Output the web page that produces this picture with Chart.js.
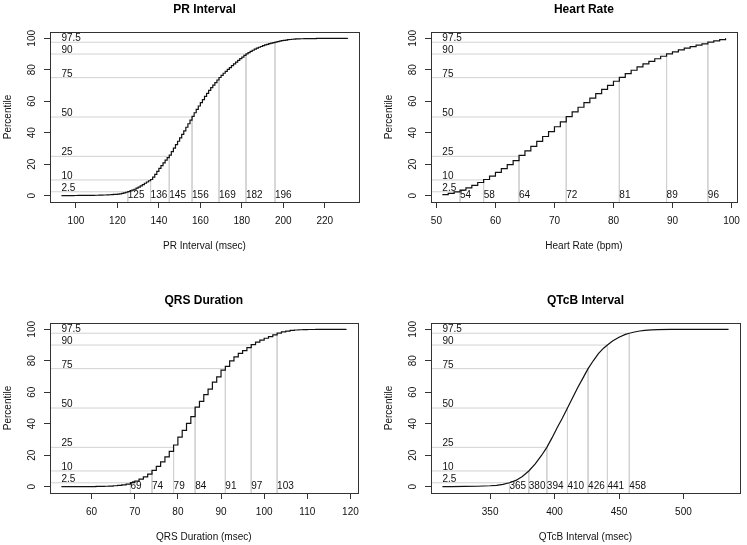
<!DOCTYPE html>
<html lang="en">
<head>
  <meta charset="UTF-8" />
  <title>ECG Interval Percentiles</title>
  <script src="https://cdn.jsdelivr.net/npm/chart.js"></script>
  <style>
    html, body {
      margin: 0;
      padding: 0;
      background: #fff;
      overflow: hidden;
    }
    body {
      position: relative;
      width: 747px;
      height: 545px;
    }
    canvas {
      position: absolute;
    }
  </style>
</head>
<body>
  <canvas id="prChart" width="366" height="252" style="left:0;top:0"></canvas>
  <canvas id="hrChart" width="366" height="252" style="left:381px;top:0"></canvas>
  <canvas id="qrsChart" width="366" height="252" style="left:0;top:291px"></canvas>
  <canvas id="qtcChart" width="366" height="252" style="left:381px;top:291px"></canvas>

  <script>
    // percentile reference levels shared by all four panels
    const pctLevels = [2.5, 10, 25, 50, 75, 90, 97.5];
    const pctText = ['2.5', '10', '25', '50', '75', '90', '97.5'];
    const yTicks = [0, 20, 40, 60, 80, 100];

    // PR interval (msec) - cumulative percent
    const prX = [93, 95, 97, 99, 101, 103, 105, 107, 109, 111, 113, 115, 116, 117, 118, 119,
      120, 121, 122, 123, 124, 125, 126, 127, 128, 129, 130, 131, 132, 133, 134, 135,
      136, 137, 138, 139, 140, 141, 142, 143, 144, 145, 146, 147, 148, 149, 150, 151,
      152, 153, 154, 155, 156, 157, 158, 159, 160, 161, 162, 163, 164, 165, 166, 167,
      168, 169, 170, 171, 172, 173, 174, 175, 176, 177, 178, 179, 180, 181, 182, 183,
      184, 185, 186, 187, 188, 189, 190, 191, 192, 193, 194, 195, 196, 197, 198, 199,
      200, 201, 202, 203, 204, 205, 206, 208, 210, 213, 216, 220, 225, 231];
    const prPct = [0.05, 0.08, 0.1, 0.12, 0.15, 0.18, 0.2, 0.25, 0.3, 0.35, 0.45, 0.55, 0.6, 0.7, 0.8, 0.9,
      1.0, 1.2, 1.5, 1.8, 2.2, 2.6, 3.0, 3.5, 4.1, 4.8, 5.5, 6.3, 7.1, 7.9, 8.7, 9.5,
      10.3, 11.8, 13.6, 15.5, 17.3, 19.1, 20.9, 22.6, 24.2, 25.8, 28.0, 30.2, 32.4, 34.6, 36.8, 39.0,
      41.2, 43.5, 45.7, 48.0, 50.4, 52.7, 54.9, 57.0, 59.1, 61.1, 63.1, 65.0, 66.9, 68.6, 70.3, 71.9,
      73.5, 75.1, 76.5, 77.8, 79.0, 80.2, 81.4, 82.6, 83.8, 84.9, 86.0, 87.1, 88.1, 89.1, 90.1, 90.9,
      91.7, 92.4, 93.1, 93.7, 94.3, 94.8, 95.3, 95.8, 96.2, 96.6, 96.9, 97.2, 97.6, 97.9, 98.2, 98.5,
      98.7, 98.9, 99.1, 99.25, 99.4, 99.5, 99.6, 99.7, 99.8, 99.85, 99.9, 99.95, 99.97, 100];
    const prQuant = [125, 136, 145, 156, 169, 182, 196];
    const prTicks = [100, 120, 140, 160, 180, 200, 220];

    // Heart rate (bpm)
    const hrX = [51, 52, 53, 54, 55, 56, 57, 58, 59, 60, 61, 62, 63, 64, 65, 66, 67, 68, 69, 70,
      71, 72, 73, 74, 75, 76, 77, 78, 79, 80, 81, 82, 83, 84, 85, 86, 87, 88, 89, 90,
      91, 92, 93, 94, 95, 96, 97, 98, 99];
    const hrPct = [0.7, 1.5, 2.4, 3.6, 5.0, 6.6, 8.4, 10.3, 12.5, 14.8, 17.2, 19.7, 22.3, 25.6, 28.5, 31.4, 34.5, 37.6, 40.7, 43.8,
      46.9, 50.2, 53.2, 56.2, 59.1, 62.0, 64.8, 67.5, 70.1, 72.7, 75.2, 77.5, 79.7, 81.8, 83.7, 85.4, 87.0, 88.6, 90.1, 91.4,
      92.6, 93.7, 94.7, 95.6, 96.5, 97.6, 98.4, 99.2, 100];
    const hrQuant = [54, 58, 64, 72, 81, 89, 96];
    const hrTicks = [50, 60, 70, 80, 90, 100];

    // QRS duration (msec)
    const qrsX = [53, 55, 57, 59, 60, 61, 62, 63, 64, 65, 66, 67, 68, 69, 70, 71, 72, 73, 74, 75,
      76, 77, 78, 79, 80, 81, 82, 83, 84, 85, 86, 87, 88, 89, 90, 91, 92, 93, 94, 95,
      96, 97, 98, 99, 100, 101, 102, 103, 104, 105, 106, 107, 108, 109, 110, 112, 115, 119];
    const qrsPct = [0.02, 0.03, 0.05, 0.08, 0.1, 0.15, 0.2, 0.3, 0.4, 0.6, 0.8, 1.1, 1.6, 2.6, 3.6, 4.8, 6.3, 8.0, 10.4, 12.9,
      15.8, 19.0, 22.4, 26.5, 31.5, 35.8, 40.2, 44.5, 50.5, 54.2, 58.5, 62.0, 66.5, 69.8, 74.0, 76.5, 80.0, 82.5, 84.7, 86.5,
      88.3, 90.2, 91.8, 93.1, 94.3, 95.4, 96.4, 97.6, 98.3, 98.9, 99.3, 99.55, 99.7, 99.8, 99.87, 99.93, 99.97, 100];
    const qrsQuant = [69, 74, 79, 84, 91, 97, 103];
    const qrsTicks = [60, 70, 80, 90, 100, 110, 120];

    // QTcB interval (msec)
    const qtcX = [313, 320, 330, 340, 350, 355, 360, 365, 370, 375, 380, 385, 390, 394, 398, 402, 406, 410,
      414, 418, 422, 426, 430, 434, 438, 441, 445, 450, 455, 458, 462, 466, 470, 475, 480, 490, 500, 520, 535];
    const qtcPct = [0.0, 0.05, 0.15, 0.3, 0.6, 0.9, 1.5, 2.5, 4.0, 6.5, 10.0, 14.5, 20.0, 25.0, 31.0, 37.5, 43.5, 50.0,
      56.5, 63.0, 69.0, 75.0, 80.0, 84.5, 88.0, 90.0, 92.5, 95.0, 96.8, 97.5, 98.3, 98.9, 99.3, 99.6, 99.8, 99.9, 99.95, 99.98, 100];
    const qtcQuant = [365, 380, 394, 410, 426, 441, 458];
    const qtcTicks = [350, 400, 450, 500];

    Chart.defaults.font.family = '"Liberation Sans", Arial, sans-serif';
    Chart.defaults.font.size = 10;
    Chart.defaults.color = '#111';

    // percentile labels + frame round the plot region
    const refMarks = {
      id: 'refMarks',
      afterDatasetsDraw(chart, args, opts) {
        const { ctx, chartArea, scales: { x, y } } = chart;
        ctx.save();
        ctx.font = '10px "Liberation Sans", Arial, sans-serif';
        ctx.fillStyle = '#111';
        ctx.textAlign = 'left';
        pctLevels.forEach((p, i) => {
          ctx.textBaseline = 'alphabetic';
          ctx.fillText(pctText[i], x.getPixelForValue(opts.xStart), y.getPixelForValue(p) - 1);
          ctx.textBaseline = 'middle';
          ctx.fillText(String(opts.quants[i]), x.getPixelForValue(opts.quants[i]), y.getPixelForValue(0));
        });
        ctx.strokeStyle = '#333';
        ctx.lineWidth = 1;
        const l = Math.round(chartArea.left) + 0.5;
        const t = Math.round(chartArea.top) + 0.5;
        ctx.strokeRect(l, t, Math.round(chartArea.right) - l + 0.5, Math.round(chartArea.bottom) - t + 0.5);
        ctx.restore();
      }
    };

    function makePanel(id, title, xLabel, xs, pcts, quants, xTicks, stepped) {
      const lo = Math.min(...xs), hi = Math.max(...xs);
      const xLo = lo - 0.04 * (hi - lo);
      const xHi = hi + 0.04 * (hi - lo);
      const yLo = -4, yHi = 104;

      const datasets = [{
        data: xs.map((v, i) => ({ x: v, y: pcts[i] })),
        borderColor: '#111',
        borderWidth: 1.2,
        pointRadius: 0,
        stepped: stepped ? 'before' : false,
        tension: 0
      }];
      // grey guide: from left edge across to the quantile, then down to the bottom edge
      pctLevels.forEach((p, i) => {
        datasets.push({
          data: [{ x: xLo, y: p }, { x: quants[i], y: p }, { x: quants[i], y: yLo }],
          borderColor: '#d2d2d2',
          borderWidth: 1,
          pointRadius: 0
        });
      });

      return new Chart(document.getElementById(id), {
        type: 'line',
        data: { datasets },
        plugins: [refMarks],
        options: {
          responsive: false,
          animation: false,
          events: [],
          layout: { padding: { left: 0, right: 7, top: 0, bottom: 0 } },
          plugins: {
            legend: { display: false },
            tooltip: { enabled: false },
            title: {
              display: true,
              text: title,
              fullSize: false,
              color: '#000',
              font: { size: 12, weight: 'bold' },
              padding: { top: 2, bottom: 15.6 }
            },
            refMarks: { xStart: lo, quants }
          },
          scales: {
            x: {
              type: 'linear',
              min: xLo,
              max: xHi,
              afterBuildTicks: s => { s.ticks = xTicks.map(v => ({ value: v })); },
              afterFit: s => { s.height = 50; },
              grid: { drawOnChartArea: false, color: '#333', tickLength: 6 },
              border: { display: false },
              ticks: { autoSkip: false, maxRotation: 0, padding: 7 },
              title: { display: true, text: xLabel, padding: 0 }
            },
            y: {
              type: 'linear',
              min: yLo,
              max: yHi,
              afterBuildTicks: s => { s.ticks = yTicks.map(v => ({ value: v })); },
              afterFit: s => { s.width = 50; },
              grid: { drawOnChartArea: false, color: '#333', tickLength: 6 },
              border: { display: false },
              ticks: { minRotation: 90, maxRotation: 90, crossAlign: 'center', padding: 3 },
              title: { display: true, text: 'Percentile', padding: { top: 2, bottom: 0 } }
            }
          }
        }
      });
    }

    makePanel('prChart', 'PR Interval', 'PR Interval (msec)', prX, prPct, prQuant, prTicks, true);
    makePanel('hrChart', 'Heart Rate', 'Heart Rate (bpm)', hrX, hrPct, hrQuant, hrTicks, true);
    makePanel('qrsChart', 'QRS Duration', 'QRS Duration (msec)', qrsX, qrsPct, qrsQuant, qrsTicks, true);
    makePanel('qtcChart', 'QTcB Interval', 'QTcB Interval (msec)', qtcX, qtcPct, qtcQuant, qtcTicks, false);
  </script>
</body>
</html>
